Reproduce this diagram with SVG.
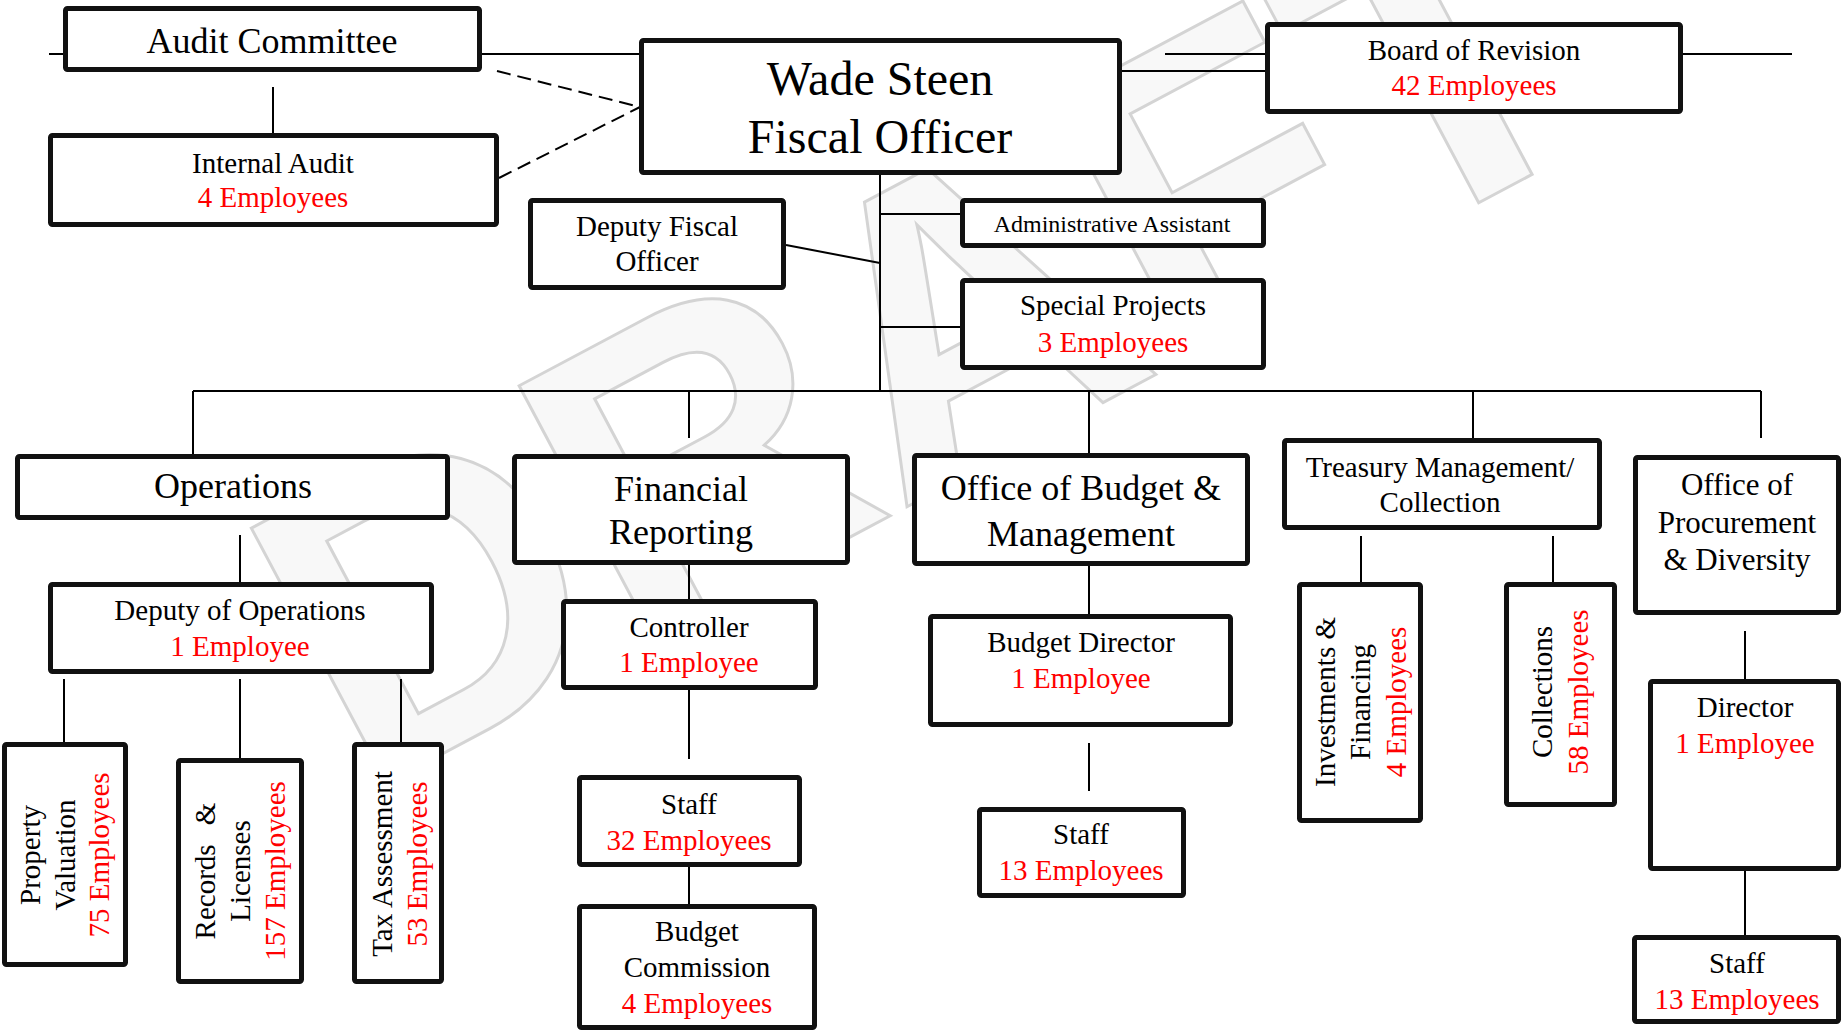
<svg xmlns="http://www.w3.org/2000/svg" width="1845" height="1034" viewBox="0 0 1845 1034">
<style>
.box{fill:#fff;stroke:#111;stroke-width:5}
.ln{stroke:#000;stroke-width:2;fill:none}
.dash{stroke-dasharray:14 7}
.t{font-family:"Liberation Serif","Times New Roman",serif;fill:#000;text-anchor:middle}
.r{fill:#ff0000}
.f24{font-size:24px}
.f29{font-size:29px}
.f31{font-size:31px}
.f36{font-size:36px}
.f48{font-size:48px}
.wm{font-family:"Liberation Sans",Arial,sans-serif;font-weight:bold;font-size:420px;fill:#f8f8f8;stroke:#d4d4d4;stroke-width:3;text-anchor:middle}
</style>
<rect width="1845" height="1034" fill="#fff"/>
<g id="watermark">
<text class="wm" transform="translate(920,330) rotate(-28)" x="0" y="150">DRAFT</text>
</g>
<g id="connectors">
<line class="ln" x1="49" y1="54" x2="639" y2="54"/>
<line class="ln" x1="1165" y1="54" x2="1792" y2="54"/>
<line class="ln" x1="1121" y1="71" x2="1265" y2="71"/>
<line class="ln dash" x1="497" y1="71" x2="640" y2="107"/>
<line class="ln dash" x1="499" y1="178" x2="640" y2="107"/>
<line class="ln" x1="273" y1="87" x2="273" y2="133"/>
<line class="ln" x1="880" y1="168" x2="880" y2="391"/>
<line class="ln" x1="880" y1="214" x2="960" y2="214"/>
<line class="ln" x1="880" y1="327" x2="960" y2="327"/>
<line class="ln" x1="786" y1="245" x2="880" y2="263"/>
<line class="ln" x1="193" y1="391" x2="1761" y2="391"/>
<line class="ln" x1="193" y1="391" x2="193" y2="455"/>
<line class="ln" x1="689" y1="391" x2="689" y2="438"/>
<line class="ln" x1="1089" y1="391" x2="1089" y2="453"/>
<line class="ln" x1="1473" y1="391" x2="1473" y2="438"/>
<line class="ln" x1="1761" y1="391" x2="1761" y2="438"/>
<line class="ln" x1="240" y1="535" x2="240" y2="582"/>
<line class="ln" x1="64" y1="679" x2="64" y2="742"/>
<line class="ln" x1="240" y1="679" x2="240" y2="758"/>
<line class="ln" x1="401" y1="679" x2="401" y2="742"/>
<line class="ln" x1="689" y1="565" x2="689" y2="599"/>
<line class="ln" x1="689" y1="690" x2="689" y2="759"/>
<line class="ln" x1="689" y1="855" x2="689" y2="904"/>
<line class="ln" x1="1089" y1="566" x2="1089" y2="614"/>
<line class="ln" x1="1089" y1="743" x2="1089" y2="791"/>
<line class="ln" x1="1361" y1="536" x2="1361" y2="582"/>
<line class="ln" x1="1553" y1="536" x2="1553" y2="582"/>
<line class="ln" x1="1745" y1="631" x2="1745" y2="679"/>
<line class="ln" x1="1745" y1="871" x2="1745" y2="935"/>
</g>
<g id="audit-committee">
<rect class="box" x="65.5" y="8.5" width="414" height="61" rx="2"/>
<text class="t f36" x="272" y="53">Audit Committee</text>
</g>
<g id="internal-audit">
<rect class="box" x="50.5" y="135.5" width="446" height="89" rx="2"/>
<text class="t f29" x="273" y="173">Internal Audit</text>
<text class="t f29 r" x="273" y="207">4 Employees</text>
</g>
<g id="fiscal-officer">
<rect class="box" x="641.5" y="40.5" width="478" height="132" rx="2"/>
<text class="t f48" x="880" y="95">Wade Steen</text>
<text class="t f48" x="880" y="153">Fiscal Officer</text>
</g>
<g id="board-of-revision">
<rect class="box" x="1267.5" y="24.5" width="413" height="87" rx="2"/>
<text class="t f29" x="1474" y="60">Board of Revision</text>
<text class="t f29 r" x="1474" y="95">42 Employees</text>
</g>
<g id="deputy-fiscal-officer">
<rect class="box" x="530.5" y="200.5" width="253" height="87" rx="2"/>
<text class="t f29" x="657" y="236">Deputy Fiscal</text>
<text class="t f29" x="657" y="271">Officer</text>
</g>
<g id="administrative-assistant">
<rect class="box" x="962.5" y="200.5" width="301" height="45" rx="2"/>
<text class="t f24" x="1112" y="232">Administrative Assistant</text>
</g>
<g id="special-projects">
<rect class="box" x="962.5" y="280.5" width="301" height="87" rx="2"/>
<text class="t f29" x="1113" y="315">Special Projects</text>
<text class="t f29 r" x="1113" y="352">3 Employees</text>
</g>
<g id="operations">
<rect class="box" x="17.5" y="456.5" width="430" height="61" rx="2"/>
<text class="t f36" x="233" y="498">Operations</text>
</g>
<g id="deputy-of-operations">
<rect class="box" x="50.5" y="584.5" width="381" height="87" rx="2"/>
<text class="t f29" x="240" y="620">Deputy of Operations</text>
<text class="t f29 r" x="240" y="656">1 Employee</text>
</g>
<g id="property-valuation">
<rect class="box" x="4.5" y="744.5" width="121" height="220" rx="2"/>
<text class="t f29" transform="translate(40,855) rotate(-90)"><tspan x="0" y="0">Property</tspan><tspan x="0" y="35">Valuation</tspan><tspan class="r" x="0" y="69">75 Employees</tspan></text>
</g>
<g id="records-licenses">
<rect class="box" x="178.5" y="760.5" width="123" height="221" rx="2"/>
<text class="t f29" transform="translate(215,871) rotate(-90)"><tspan x="0" y="0" word-spacing="12">Records &amp;</tspan><tspan x="0" y="35">Licenses</tspan><tspan class="r" x="0" y="70">157 Employees</tspan></text>
</g>
<g id="tax-assessment">
<rect class="box" x="354.5" y="744.5" width="87" height="237" rx="2"/>
<text class="t f29" transform="translate(392,864) rotate(-90)"><tspan x="0" y="0">Tax Assessment</tspan><tspan class="r" x="0" y="35">53 Employees</tspan></text>
</g>
<g id="financial-reporting">
<rect class="box" x="514.5" y="456.5" width="333" height="106" rx="2"/>
<text class="t f36" x="681" y="501">Financial</text>
<text class="t f36" x="681" y="544">Reporting</text>
</g>
<g id="controller">
<rect class="box" x="563.5" y="601.5" width="252" height="86" rx="2"/>
<text class="t f29" x="689" y="637">Controller</text>
<text class="t f29 r" x="689" y="672">1 Employee</text>
</g>
<g id="financial-staff">
<rect class="box" x="579.5" y="777.5" width="220" height="87" rx="2"/>
<text class="t f29" x="689" y="814">Staff</text>
<text class="t f29 r" x="689" y="850">32 Employees</text>
</g>
<g id="budget-commission">
<rect class="box" x="579.5" y="906.5" width="235" height="121" rx="2"/>
<text class="t f29" x="697" y="941">Budget</text>
<text class="t f29" x="697" y="977">Commission</text>
<text class="t f29 r" x="697" y="1013">4 Employees</text>
</g>
<g id="office-of-budget">
<rect class="box" x="914.5" y="455.5" width="333" height="108" rx="2"/>
<text class="t f36" x="1081" y="500">Office of Budget &amp;</text>
<text class="t f36" x="1081" y="546">Management</text>
</g>
<g id="budget-director">
<rect class="box" x="930.5" y="616.5" width="300" height="108" rx="2"/>
<text class="t f29" x="1081" y="652">Budget Director</text>
<text class="t f29 r" x="1081" y="688">1 Employee</text>
</g>
<g id="budget-staff">
<rect class="box" x="979.5" y="809.5" width="204" height="86" rx="2"/>
<text class="t f29" x="1081" y="844">Staff</text>
<text class="t f29 r" x="1081" y="880">13 Employees</text>
</g>
<g id="treasury-management">
<rect class="box" x="1284.5" y="440.5" width="315" height="87" rx="2"/>
<text class="t f29" x="1440" y="477">Treasury Management/</text>
<text class="t f29" x="1440" y="512">Collection</text>
</g>
<g id="investments-financing">
<rect class="box" x="1299.5" y="584.5" width="121" height="236" rx="2"/>
<text class="t f29" transform="translate(1335,702) rotate(-90)"><tspan x="0" y="0">Investments &amp;</tspan><tspan x="0" y="35">Financing</tspan><tspan class="r" x="0" y="71">4 Employees</tspan></text>
</g>
<g id="collections">
<rect class="box" x="1506.5" y="584.5" width="108" height="220" rx="2"/>
<text class="t f29" transform="translate(1552,692) rotate(-90)"><tspan x="0" y="0">Collections</tspan><tspan class="r" x="0" y="36">58 Employees</tspan></text>
</g>
<g id="procurement-diversity">
<rect class="box" x="1635.5" y="457.5" width="203" height="155" rx="2"/>
<text class="t f31" x="1737" y="495">Office of</text>
<text class="t f31" x="1737" y="533">Procurement</text>
<text class="t f31" x="1737" y="570">&amp; Diversity</text>
</g>
<g id="procurement-director">
<rect class="box" x="1650.5" y="681.5" width="188" height="187" rx="2"/>
<text class="t f29" x="1745" y="717">Director</text>
<text class="t f29 r" x="1745" y="753">1 Employee</text>
</g>
<g id="procurement-staff">
<rect class="box" x="1634.5" y="937.5" width="204" height="84" rx="2"/>
<text class="t f29" x="1737" y="973">Staff</text>
<text class="t f29 r" x="1737" y="1009">13 Employees</text>
</g>
</svg>
